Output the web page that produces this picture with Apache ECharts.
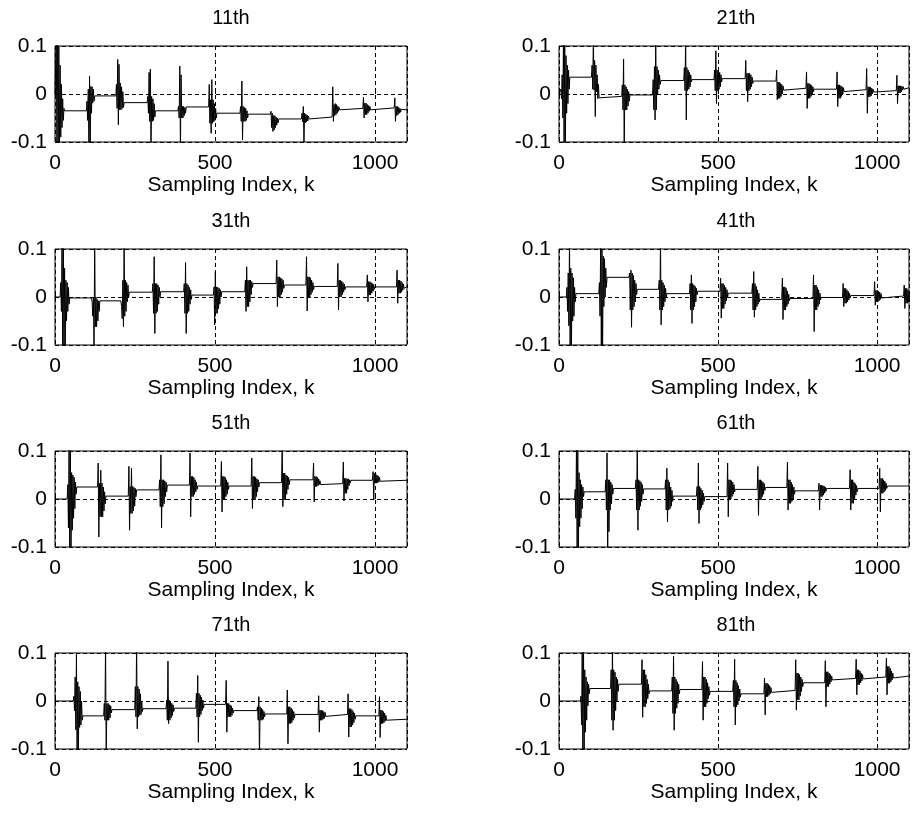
<!DOCTYPE html>
<html>
<head>
<meta charset="utf-8">
<title>Harmonic responses</title>
<script src="https://cdn.jsdelivr.net/npm/echarts@6/dist/echarts.min.js"></script>
<style>
  html, body { margin: 0; padding: 0; background: #fff; }
  #chart { width: 912px; height: 813px; }
</style>
</head>
<body>
<div id="chart"></div>
<script>
// Panel titles (harmonic order)
const panelTitles = ['11th', '21th', '31th', '41th', '51th', '61th', '71th', '81th'];

// Axis ranges and ticks
const xMin = 0, xMax = 1100, xTicks = [0, 500, 1000];
const yMin = -0.1, yMax = 0.1, yTicks = [-0.1, 0, 0.1];
const xLabel = 'Sampling Index, k';

// Each burst is a run of samples, one every 2 k, values in thousandths.
const sampleStep = 2;
const milli = 0.001;

// ---- 11th ----
const h11Starts = [2, 98, 190, 288, 384, 480, 578, 673, 770, 866, 962, 1060];
const h11Levels = [-35, -4, -18, -35, -27, -40, -42, -52, -48, -30, -29, -33];
const h11Bursts = [
  [0, 120, -120, 120, -120, 100, -110, 60, -90, 20, -70, -10, -55, -30],
  [-35, -15, -55, 10, -120, 37, -120, 16, -40, 15, -19, 10, -15, -4],
  [-4, 20, -30, 72, -64, 62, -33, 23, -33, 15, -30, 5, -28, -18],
  [-18, -5, -40, 45, -57, 52, -120, -5, -57, -10, -55, -20, -48, -35],
  [-35, -26, -50, 58, -120, 40, -50, -26, -50, -26, -45, -28, -40, -27],
  [-27, 20, -61, -12, -82, 30, -61, -12, -58, -20, -55, -30, -50, -40],
  [-40, -26, -57, 27, -96, -26, -57, -28, -57, -30, -55, -35, -50, -42],
  [-42, -36, -70, -40, -78, -45, -75, -45, -70, -48, -65, -50, -60, -52],
  [-52, -40, -58, -26, -100, -40, -60, -42, -58, -44, -56, -46, -52, -48],
  [-48, 15, -57, -22, -45, -20, -43, -22, -40, -25, -36, -28, -33, -30],
  [-30, -7, -50, -19, -43, -19, -43, -22, -40, -24, -36, -26, -33, -29],
  [-29, -8, -57, -26, -45, -26, -43, -28, -40, -30, -38, -32, -35, -33]
];

// ---- 21th ----
const h21Starts = [4, 102, 197, 294, 392, 487, 585, 682, 776, 872, 965, 1060];
const h21Levels = [35, -5, -2, 28, 30, 32, 27, 12, 10, 9, 7, 13];
const h21Bursts = [
  [0, 10, -10, 40, -50, 120, -120, 120, -120, 80, -40, 60, -20, 50, 10, 35],
  [35, 60, 10, 120, 8, 70, -47, 60, 5, 40, -10, 20, -8, -5],
  [-5, 19, -33, 73, -120, 19, -33, 15, -33, 10, -25, 5, -15, -2],
  [-2, 30, -33, 57, -54, 120, -33, 57, 0, 50, 10, 40, 20, 28],
  [28, 55, 7, 120, -54, 55, 7, 50, 10, 45, 15, 40, 25, 30],
  [30, 50, 7, 90, -20, 50, 7, 48, 10, 45, 15, 40, 25, 32],
  [32, 70, 7, 43, -16, 43, 7, 43, 10, 40, 15, 35, 22, 27],
  [27, 50, -12, 25, -9, 25, -9, 22, -5, 20, 0, 17, 8, 12],
  [12, 46, -30, 22, -9, 22, -9, 20, -5, 18, 0, 15, 5, 10],
  [10, 46, -26, 19, -9, 19, -9, 17, -5, 15, 0, 13, 5, 9],
  [9, 53, -40, 15, -6, 15, -6, 14, -4, 12, 0, 10, 4, 7],
  [7, 39, -20, 17, 2, 17, 2, 17, 5, 16, 8, 15, 10, 13]
];

// ---- 31th ----
const h31Starts = [16, 114, 206, 304, 402, 495, 593, 691, 784, 882, 974, 1067];
const h31Levels = [-2, -8, 10, 11, 4, 11, 28, 25, 22, 21, 21, 22];
const h31Bursts = [
  [0, 30, -30, 120, -120, 120, -120, 60, -120, 35, -50, 30, -30, 20, -15, -2],
  [-2, -10, -40, 0, -120, 120, -62, 0, -62, -5, -50, -8, -30, -8],
  [-8, -20, -45, 35, -62, 120, -40, 35, -30, 30, -10, 25, 0, 10],
  [10, 28, -34, 84, -76, 28, -34, 28, -30, 25, -15, 20, 0, 11],
  [11, 28, -34, 72, -76, 28, -34, 25, -30, 20, -15, 15, -5, 4],
  [4, 21, -58, 53, -34, 21, -34, 20, -25, 18, -15, 15, 0, 11],
  [11, 35, -30, 63, -20, 35, -20, 35, -10, 35, 5, 32, 20, 28],
  [28, 77, -20, 42, 0, 42, 0, 40, 5, 38, 10, 35, 18, 25],
  [25, 84, -29, 42, 0, 42, 0, 40, 5, 35, 10, 30, 15, 22],
  [22, 70, -27, 35, 0, 35, 0, 33, 5, 30, 10, 27, 15, 21],
  [21, 46, -10, 32, 4, 32, 4, 30, 8, 28, 12, 26, 16, 21],
  [21, 56, -13, 35, 8, 35, 8, 33, 10, 30, 14, 27, 18, 22]
];

// ---- 41th ----
const h41Starts = [23, 125, 220, 313, 410, 506, 606, 700, 798, 891, 990, 1083];
const h41Levels = [7, 41, 16, 7, 12, 8, -5, -3, -1, 3, 2, 2];
const h41Bursts = [
  [0, 20, -30, 50, -60, 120, -120, 60, -120, 50, -50, 40, -40, 20, -10, 7],
  [7, 30, -40, 120, -120, 100, -120, 85, -20, 80, 0, 60, 20, 41],
  [41, 50, -27, 56, -63, 50, -27, 45, -20, 35, -10, 28, 5, 16],
  [16, 35, -27, 120, -58, 35, -27, 30, -20, 25, -10, 18, 0, 7],
  [7, 28, -27, 46, -55, 28, -27, 25, -20, 22, -10, 18, 5, 12],
  [12, 39, -44, 28, -24, 28, -24, 25, -15, 20, -8, 15, 0, 8],
  [8, 28, -27, 53, -42, 28, -27, 22, -20, 15, -15, 8, -10, -5],
  [-5, 39, -47, 21, -27, 21, -27, 18, -20, 12, -15, 6, -8, -3],
  [-3, 46, -72, 25, -27, 25, -27, 20, -20, 15, -15, 8, -6, -1],
  [-1, 28, -20, 18, -13, 18, -13, 15, -10, 12, -6, 8, -2, 3],
  [3, 32, -17, 14, -10, 14, -10, 12, -8, 10, -5, 7, -2, 2],
  [2, 25, -24, 18, -13, 18, -13, 15, -10, 12, -6, 8, -2, 2]
];

// ---- 51th ----
const h51Starts = [38, 133, 229, 325, 420, 518, 613, 708, 806, 899, 992];
const h51Levels = [25, 6, 19, 29, 27, 27, 34, 40, 32, 39, 39];
const h51Bursts = [
  [0, 30, -60, 120, -120, 120, -120, 55, -65, 50, -40, 45, -20, 35, 10, 25],
  [25, 75, -79, 33, -37, 60, -37, 33, -37, 25, -25, 15, -10, 6],
  [6, 68, -65, 26, -30, 64, -30, 26, -25, 24, -15, 22, 5, 19],
  [19, 40, -16, 92, -60, 40, -16, 40, -10, 38, 5, 35, 15, 29],
  [29, 96, -37, 47, 5, 47, 5, 45, 10, 40, 15, 35, 20, 27],
  [27, 78, -27, 47, -2, 47, -2, 45, 5, 40, 10, 35, 20, 27],
  [27, 85, -20, 47, -2, 47, -2, 45, 5, 42, 15, 40, 25, 34],
  [34, 120, -16, 54, -2, 54, -2, 50, 10, 48, 20, 45, 30, 40],
  [40, 75, -6, 47, 26, 47, 26, 45, 28, 42, 30, 38, 30, 32],
  [32, 77, -4, 43, 12, 43, 12, 42, 20, 42, 28, 40, 34, 39],
  [39, 57, -2, 54, 33, 54, 33, 50, 34, 48, 35, 45, 37, 39]
];

// ---- 61th ----
const h61Starts = [49, 145, 240, 333, 432, 528, 623, 716, 815, 913, 1006];
const h61Levels = [15, 22, 21, 6, 5, 20, 24, 17, 22, 22, 27];
const h61Bursts = [
  [0, 20, -40, 120, -120, 120, -120, 55, -58, 40, -40, 30, -20, 25, 5, 15],
  [15, 40, -23, 96, -120, 40, -68, 40, -23, 35, -10, 30, 10, 22],
  [22, 40, -23, 120, -65, 40, -23, 38, -15, 35, -5, 30, 10, 21],
  [21, 40, -23, 64, -48, 40, -23, 35, -20, 25, -15, 18, -5, 6],
  [6, 26, -23, 75, -51, 26, -23, 22, -18, 18, -12, 12, -5, 5],
  [5, 75, -37, 40, 0, 40, 0, 38, 5, 35, 10, 30, 15, 20],
  [20, 68, -34, 40, -2, 40, -2, 38, 5, 35, 10, 32, 18, 24],
  [24, 77, -23, 40, -9, 40, -9, 35, -5, 30, 0, 25, 10, 17],
  [17, 33, -23, 29, 5, 29, 5, 28, 8, 27, 12, 25, 16, 22],
  [22, 61, -23, 40, -9, 40, -9, 35, 0, 32, 8, 28, 15, 22],
  [22, 64, -27, 43, 12, 43, 12, 40, 15, 37, 18, 33, 22, 27]
];

// ---- 71th ----
const h71Starts = [57, 152, 249, 347, 440, 533, 631, 724, 822, 914, 1012];
const h71Levels = [-31, -18, -16, -15, -7, -20, -27, -28, -28, -31, -38];
const h71Bursts = [
  [0, 10, -20, 50, -60, 97, -120, 40, -120, 30, -55, 20, -50, 0, -40, -31],
  [-31, -5, -40, 120, -120, -5, -40, -5, -40, -8, -35, -10, -25, -18],
  [-18, 30, -33, 120, -58, 30, -33, 25, -30, 15, -28, 0, -22, -16],
  [-16, 2, -40, 83, -47, 2, -40, 0, -35, -5, -30, -8, -22, -15],
  [-15, 16, -33, 53, -86, 16, -33, 12, -28, 8, -20, 2, -15, -7],
  [-7, 43, -65, -5, -33, -5, -33, -8, -33, -10, -30, -15, -25, -20],
  [-20, -12, -40, 9, -120, -12, -40, -15, -40, -18, -38, -22, -33, -27],
  [-27, 23, -89, -12, -47, -12, -47, -15, -45, -18, -40, -22, -35, -28],
  [-28, 11, -65, -19, -40, -19, -40, -20, -38, -22, -36, -24, -32, -28],
  [-28, 15, -75, -16, -54, -16, -54, -18, -50, -22, -45, -25, -38, -31],
  [-31, 9, -76, -19, -47, -19, -47, -22, -45, -25, -42, -30, -40, -38]
];

// ---- 81th ----
const h81Starts = [67, 162, 259, 354, 449, 546, 644, 742, 835, 932, 1027];
const h81Levels = [26, 35, 21, 24, 20, 15, 22, 38, 47, 50, 52];
const h81Bursts = [
  [0, 10, -50, 120, -120, 120, -120, 65, -65, 50, -40, 40, -10, 35, 15, 26],
  [26, 65, -40, 120, -61, 65, -40, 60, -20, 50, 0, 45, 20, 35],
  [35, 86, -34, 65, -12, 65, -12, 55, -5, 45, 5, 35, 15, 21],
  [21, 50, -26, 93, -61, 50, -26, 45, -15, 40, -5, 35, 15, 24],
  [24, 82, -40, 50, -12, 50, -12, 45, -5, 38, 5, 30, 12, 20],
  [20, 43, -12, 87, -50, 43, -12, 38, -8, 32, 0, 25, 8, 15],
  [15, 48, -29, 37, 9, 37, 9, 35, 12, 32, 15, 28, 18, 22],
  [22, 86, -19, 58, 2, 58, 2, 55, 10, 50, 20, 45, 30, 38],
  [38, 84, -12, 61, 30, 61, 30, 58, 35, 55, 40, 52, 44, 47],
  [47, 87, 13, 65, 34, 65, 34, 62, 38, 58, 42, 55, 46, 50],
  [50, 89, 13, 72, 37, 72, 37, 68, 40, 62, 44, 58, 48, 52]
];

const panels = [
  [h11Starts, h11Levels, h11Bursts],
  [h21Starts, h21Levels, h21Bursts],
  [h31Starts, h31Levels, h31Bursts],
  [h41Starts, h41Levels, h41Bursts],
  [h51Starts, h51Levels, h51Bursts],
  [h61Starts, h61Levels, h61Bursts],
  [h71Starts, h71Levels, h71Bursts],
  [h81Starts, h81Levels, h81Bursts]
];

// Join the flat segments and the bursts into one [k, value] sequence.
function buildSignal(starts, levels, bursts) {
  const pts = [[xMin, 0]];
  let level = 0;
  starts.forEach((s, i) => {
    pts.push([s, level * milli]);
    bursts[i].forEach((v, j) => pts.push([s + j * sampleStep, v * milli]));
    level = levels[i];
    pts.push([s + bursts[i].length * sampleStep, level * milli]);
  });
  pts.push([xMax, level * milli]);
  return pts;
}

const FONT = "'Liberation Sans', Arial, Helvetica, sans-serif";
const FS = 21;
const colLeft = [55, 559];
const rowTop = [46, 249, 451, 653];
const plotH = 96;
const plotW = 352;

const grids = [], xAxes = [], yAxes = [], series = [], titles = [];
panels.forEach((p, i) => {
  const col = i % 2, row = Math.floor(i / 2);
  const g = { left: colLeft[col], top: rowTop[row], height: plotH,
              show: true, borderColor: '#000', borderWidth: 1, backgroundColor: '#fff' };
  if (col === 0) g.width = plotW; else g.right = -1;
  grids.push(g);

  const centerX = col === 0 ? colLeft[0] + plotW / 2 : (colLeft[1] + 913) / 2;
  titles.push({
    text: panelTitles[i], left: centerX, top: rowTop[row] - 38, textAlign: 'center', padding: 0,
    textStyle: { fontFamily: FONT, fontSize: 20, fontWeight: 'normal', color: '#000' }
  });

  xAxes.push({
    type: 'value', gridIndex: i, min: xMin, max: xMax, interval: 500,
    name: xLabel, nameLocation: 'middle', nameGap: 33,
    nameTextStyle: { fontFamily: FONT, fontSize: FS, color: '#000' },
    axisLine: { show: false },
    axisTick: { show: true, inside: true, length: 4, lineStyle: { color: '#000' } },
    axisLabel: { fontFamily: FONT, fontSize: FS, color: '#000', margin: 11,
                 formatter: v => (xTicks.indexOf(v) >= 0 ? String(v) : '') },
    splitLine: { show: true, lineStyle: { color: '#000', type: [4, 3], width: 1 } }
  });

  yAxes.push({
    type: 'value', gridIndex: i, min: yMin, max: yMax, interval: 0.1,
    axisLine: { show: false },
    axisTick: { show: true, inside: true, length: 4, lineStyle: { color: '#000' } },
    axisLabel: { fontFamily: FONT, fontSize: FS, color: '#000', margin: 8,
                 formatter: v => {
                   const t = yTicks.find(y => Math.abs(y - v) < 1e-9);
                   return t === undefined ? '' : (t === 0 ? '0' : t.toFixed(1));
                 } },
    splitLine: { show: true, lineStyle: { color: '#000', type: [4, 3], width: 1 } }
  });

  series.push({
    type: 'line', xAxisIndex: i, yAxisIndex: i,
    data: buildSignal(p[0], p[1], p[2]),
    showSymbol: false, symbol: 'none', clip: true,
    lineStyle: { color: '#000', width: 1 },
    animation: false
  });
});

const chart = echarts.init(document.getElementById('chart'), null, { renderer: 'canvas' });
chart.setOption({
  backgroundColor: '#fff',
  animation: false,
  title: titles,
  grid: grids,
  xAxis: xAxes,
  yAxis: yAxes,
  series: series
});
</script>
</body>
</html>
